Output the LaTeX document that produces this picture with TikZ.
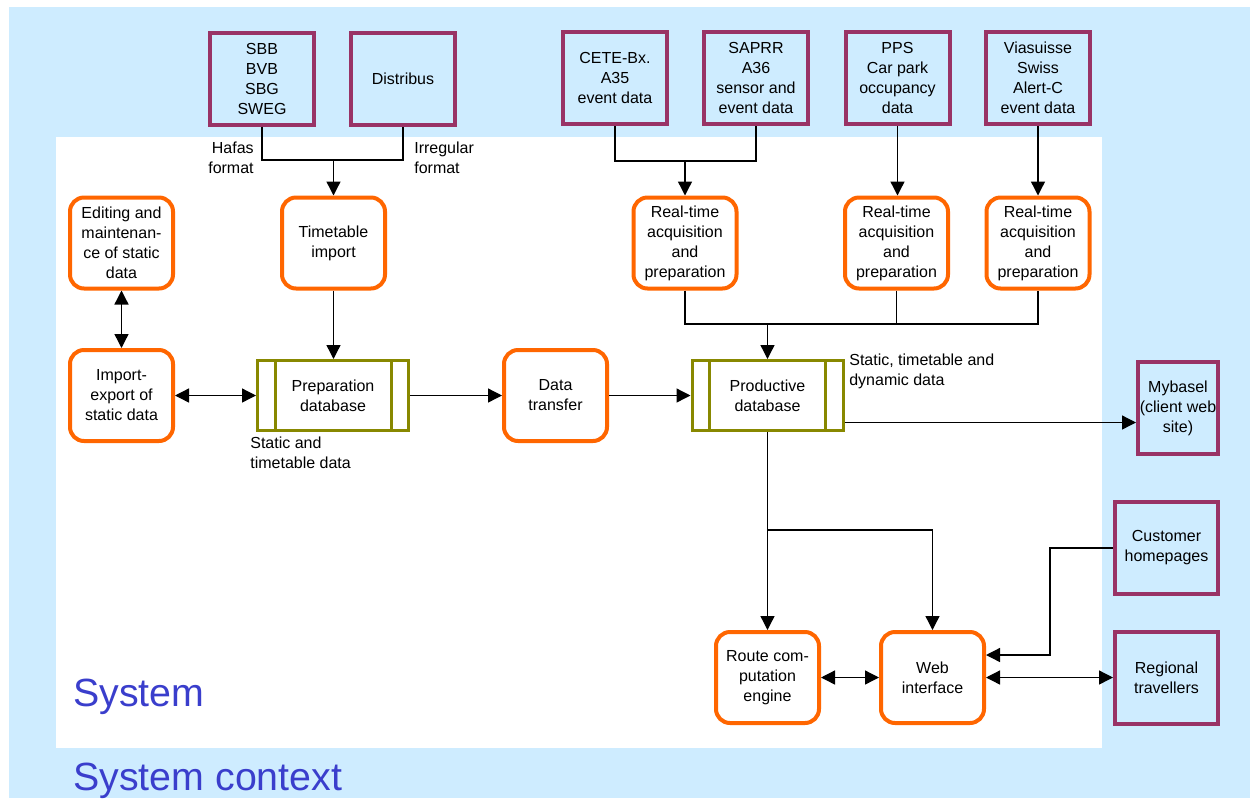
\documentclass[tikz,border=0pt]{standalone}
\usepackage{fontspec}
\setmainfont{Liberation Sans}
\usetikzlibrary{arrows.meta,calc}
\definecolor{sky}{RGB}{206,236,255}
\definecolor{plum}{RGB}{153,51,102}
\definecolor{orng}{RGB}{255,102,0}
\definecolor{olv}{RGB}{136,136,0}
\definecolor{sysblue}{RGB}{58,62,204}
\tikzset{
  every node/.style={font=\fontsize{9.6}{12}\selectfont, align=center},
  ext/.style={draw=plum, line width=2.4pt, rectangle, minimum width=62.4pt, minimum height=55.2pt, inner sep=1pt},
  proc/.style={draw=orng, line width=2.4pt, rectangle, rounded corners=8.4pt, minimum width=61.8pt, minimum height=54.6pt, inner sep=1pt, fill=white},
  dbase/.style={draw=olv, line width=1.8pt, rectangle, minimum width=90.6pt, minimum height=42pt, inner sep=1pt, fill=white},
  conn/.style={line width=0.8pt, black},
  arr/.style={conn, -{Triangle[length=8.4pt,width=8.4pt]}},
  darr/.style={conn, {Triangle[length=8.4pt,width=8.4pt]}-{Triangle[length=8.4pt,width=8.4pt]}},
  lbl/.style={inner sep=0pt},
  big/.style={font=\fontsize{23.6}{27}\selectfont, text=sysblue, inner sep=0pt}
}
\begin{document}
\begin{tikzpicture}[x=0.6pt, y=-0.6pt]
\useasboundingbox (0,0) rectangle (1250,798);
\fill[sky] (9,7) rectangle (1250,798);
\fill[white] (56,137) rectangle (1102,748);

% external sources
\node[ext] (sbb) at (262,78.5) {SBB\\BVB\\SBG\\SWEG};
\node[ext] (dist) at (403,79) {Distribus};
\node[ext] (cete) at (615,78) {CETE-Bx.\\A35\\event data};
\node[ext] (saprr) at (756,78) {SAPRR\\A36\\sensor and\\event data};
\node[ext] (pps) at (897.5,78) {PPS\\Car park\\occupancy\\data};
\node[ext] (via) at (1038,78) {Viasuisse\\Swiss\\Alert-C\\event data};
\node[ext, minimum width=48pt] (myb) at (1178,408) {Mybasel\\(client web\\site)};
\node[ext, minimum width=61.8pt] (cust) at (1166.5,548) {Customer\\homepages};
\node[ext, minimum width=61.8pt] (reg) at (1166.5,677.5) {Regional\\travellers};

% processes
\node[proc] (edit) at (121.5,243) {Editing and\\maintenan-\\ce of static\\data};
\node[proc] (tti) at (333.5,243) {Timetable\\import};
\node[proc] (rt1) at (685,243) {Real-time\\acquisition\\and\\preparation};
\node[proc] (rt2) at (896.5,243) {Real-time\\acquisition\\and\\preparation};
\node[proc] (rt3) at (1038,243) {Real-time\\acquisition\\and\\preparation};
\node[proc] (iex) at (121.5,395.5) {Import-\\export of\\static data};
\node[proc] (dt) at (555.5,395.5) {Data\\transfer};
\node[proc] (route) at (767.5,677.5) {Route com-\\putation\\engine};
\node[proc] (web) at (932.5,677.5) {Web\\interface};

% databases
\node[dbase] (prep) at (333,395.5) {Preparation\\database};
\node[dbase] (prod) at (767.5,395.5) {Productive\\database};
\foreach \d in {prep,prod}{
  \draw[olv, line width=1.8pt] ([xshift=11.4pt]\d.north west) -- ([xshift=11.4pt]\d.south west);
  \draw[olv, line width=1.8pt] ([xshift=-11.4pt]\d.north east) -- ([xshift=-11.4pt]\d.south east);
}

% labels
\node[lbl, anchor=north east, align=right] (hafas) at (254,142) {Hafas\\format};
\node[lbl, anchor=north west, align=left] (irreg) at (414,142) {Irregular\\format};
\node[lbl, anchor=north west, align=left] (stl) at (250,437) {Static and\\timetable data};
\node[lbl, anchor=north west, align=left] (sdl) at (849,354) {Static, timetable and\\dynamic data};
\node[big, anchor=base west] (sys) at (73,706) {System};
\node[big, anchor=base west] (ctx) at (73,790) {System context};

% connectors
\coordinate (j1) at (333.5,160);
\draw[conn] (sbb.south) |- (j1) -| (dist.south);
\draw[arr] (j1) -- (tti.north);
\draw[arr] (tti.south) -- (tti.south |- prep.north);

\coordinate (j2) at (685,161);
\draw[conn] (cete.south) |- (j2) -| (saprr.south);
\draw[arr] (j2) -- (rt1.north);
\draw[arr] (pps.south) -- (pps.south |- rt2.north);
\draw[arr] (via.south) -- (via.south |- rt3.north);

\coordinate (j3) at (767.5,324);
\draw[conn] (rt1.south) |- (j3) -| (rt3.south);
\draw[conn] (rt2.south) -- (rt2.south |- j3);
\draw[arr] (j3) -- (prod.north);

\draw[darr] (edit.south) -- (iex.north);
\draw[darr] (iex.east) -- (prep.west);
\draw[arr] (prep.east) -- (dt.west);
\draw[arr] (dt.east) -- (prod.west);

\coordinate (j6) at ($(prod.east)+(0,27)$);
\draw[arr] (j6) -- (j6 -| myb.west);

\draw[arr] (prod.south) -- (route.north);
\coordinate (j4) at (767.5,530);
\draw[arr] (j4) -| (web.north);

\coordinate (j5) at (1050,548);
\draw[arr] (cust.west) -- (j5) |- ($(web.east)+(0,-22.5)$);
\draw[darr] (route.east) -- (web.west);
\draw[darr] (web.east) -- (reg.west);
\end{tikzpicture}
\end{document}
